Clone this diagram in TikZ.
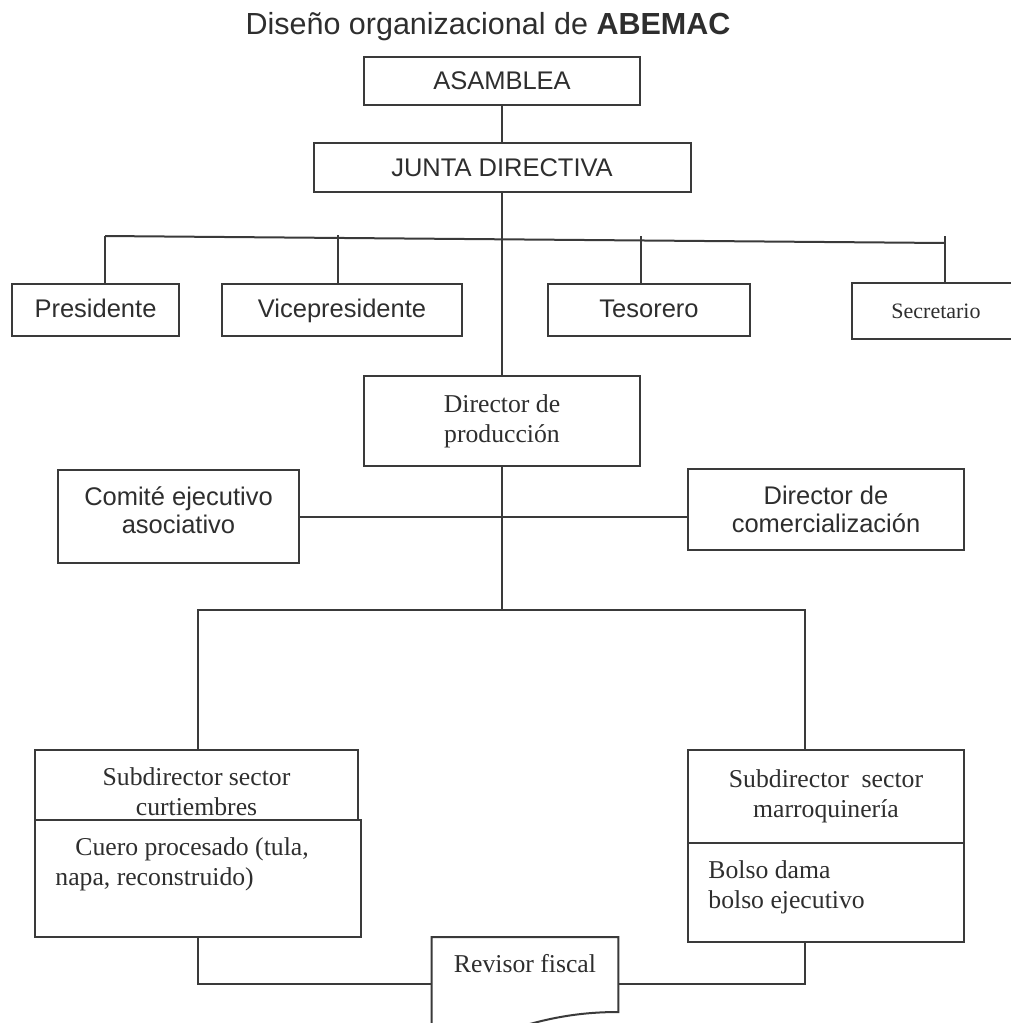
\documentclass[tikz,border=0pt]{standalone}
\usepackage{fontspec}
\setmainfont{Liberation Serif}
\newfontfamily\orgsans{Liberation Sans}
\usetikzlibrary{positioning}
\definecolor{orgline}{HTML}{3A3A3A}
\definecolor{orgtext}{HTML}{2E2E2E}
\tikzset{
  org line/.style={draw=orgline,line width=1pt},
  org box/.style={org line,rectangle,inner sep=0pt,align=center,text=orgtext},
  org sans/.style={font=\orgsans\fontsize{12.75}{14}\selectfont},
  org serif/.style={font=\fontsize{12.85}{15}\selectfont},
  org text/.style={inner sep=0pt,text=orgtext},
  org title/.style={font=\orgsans\fontsize{15.25}{18}\selectfont,text=orgtext,anchor=base},
  org officer/.style={org box,org sans,minimum height=26pt,text height=9.5pt,text depth=2.5pt}
}
\begin{document}
\begin{tikzpicture}[x=0.5pt,y=-0.5pt]
  \useasboundingbox (0,0) rectangle (1011,1023);
  \clip (0,0) rectangle (1011,1023);

  % Top of the chart.
  \node[org title] (title) at (488,34) {Diseño organizacional de \textbf{ABEMAC}};
  \node[org box,org sans,minimum width=138pt,minimum height=24pt] (asamblea) at (502,81) {ASAMBLEA};
  \node[org box,org sans,minimum width=188.5pt,minimum height=24.5pt] (junta) at (502,167.5) {JUNTA DIRECTIVA};
  \draw[org line] (asamblea.south) -- (junta.north);

  % Officers under the slanted bar.
  \node[org officer,minimum width=83.5pt] (presidente) at (95.5,310) {Presidente};
  \node[org officer,minimum width=120pt] (vice) at (342,310) {Vicepresidente};
  \node[org officer,minimum width=101pt] (tesorero) at (649,310) {Tesorero};
  \node[org box,font=\fontsize{11}{13}\selectfont,minimum width=84pt,minimum height=28pt] (secretario) at (936,311) {Secretario};
  \coordinate (bar-l) at (105,236);
  \coordinate (bar-r) at (945,243);
  \coordinate (vice-top) at (338,235);
  \coordinate (teso-top) at (641,236);
  \coordinate (secr-top) at (945,236);
  \draw[org line] (bar-l) -- (bar-r);
  \draw[org line] (bar-l) -- (bar-l |- presidente.north);
  \draw[org line] (vice-top) -- (vice-top |- vice.north);
  \draw[org line] (teso-top) -- (teso-top |- tesorero.north);
  \draw[org line] (secr-top) -- (secr-top |- secretario.north);

  % Directors.
  \node[org box,org serif,minimum width=138pt,minimum height=45pt] (dirprod) at (502,421) {Director de\\producción};
  \draw[org line] (junta.south) -- (dirprod.north);
  \node[org box,minimum width=120.5pt,minimum height=46.5pt] (comite) at (178.5,516.5) {};
  \node[org text,org sans,align=center] (comite-txt) at ([yshift=3pt]comite.center) {Comité ejecutivo\\asociativo};
  \node[org box,org sans,minimum width=138pt,minimum height=40.5pt] (comercial) at (826,509.5) {Director de\\comercialización};
  \draw[org line] (comite.east) -- (comite.east -| comercial.west);

  % Sectors.
  \coordinate (split-l) at (198,610);
  \coordinate (split-r) at (805,610);
  \node[org box,minimum width=161.5pt,minimum height=35pt] (subcurt) at (196.5,785) {};
  \node[org text,org serif,align=center] (subcurt-txt) at ([yshift=-3.5pt]subcurt.center) {Subdirector sector\\curtiembres};
  \node[org box,minimum width=163pt,minimum height=58.5pt] (cuero) at (198,878.5) {};
  \node[org text,org serif,align=left,anchor=north west] (cuero-txt) at (55,837) {\hspace*{10pt}Cuero procesado (tula,\\napa, reconstruido)};
  \node[org box,org serif,minimum width=138pt,minimum height=46.5pt] (submarr) at (826,796.5) {Subdirector\ \ sector\\marroquinería};
  \node[org box,minimum width=138pt,minimum height=49.5pt] (bolso) at (826,892.5) {};
  \node[org text,org serif,align=left,anchor=north west] (bolso-txt) at (708,860) {Bolso dama\\bolso ejecutivo};
  \draw[org line] (dirprod.south) -- (dirprod.south |- split-l);
  \draw[org line] (split-l |- subcurt.north) -- (split-l) -- (split-r) -- (split-r |- submarr.north);

  % Fiscal reviewer, cut off by the page edge.
  \node[minimum width=93pt,minimum height=52pt,inner sep=0pt,anchor=north] (revisor) at (525,937) {};
  \node[org text,org serif] (revisor-txt) at (525,964) {Revisor fiscal};
  \draw[org line] (revisor.south west) -- (revisor.north west) -- (revisor.north east)
    -- ([yshift=-37.5pt]revisor.north east) .. controls (573,1012) and (530,1020) .. (470,1045);
  \coordinate (join-l) at (198,984);
  \coordinate (join-r) at (805,984);
  \draw[org line] (join-l |- cuero.south) -- (join-l) -- (join-l -| revisor.west);
  \draw[org line] (join-r |- bolso.south) -- (join-r) -- (join-r -| revisor.east);
\end{tikzpicture}
\end{document}
